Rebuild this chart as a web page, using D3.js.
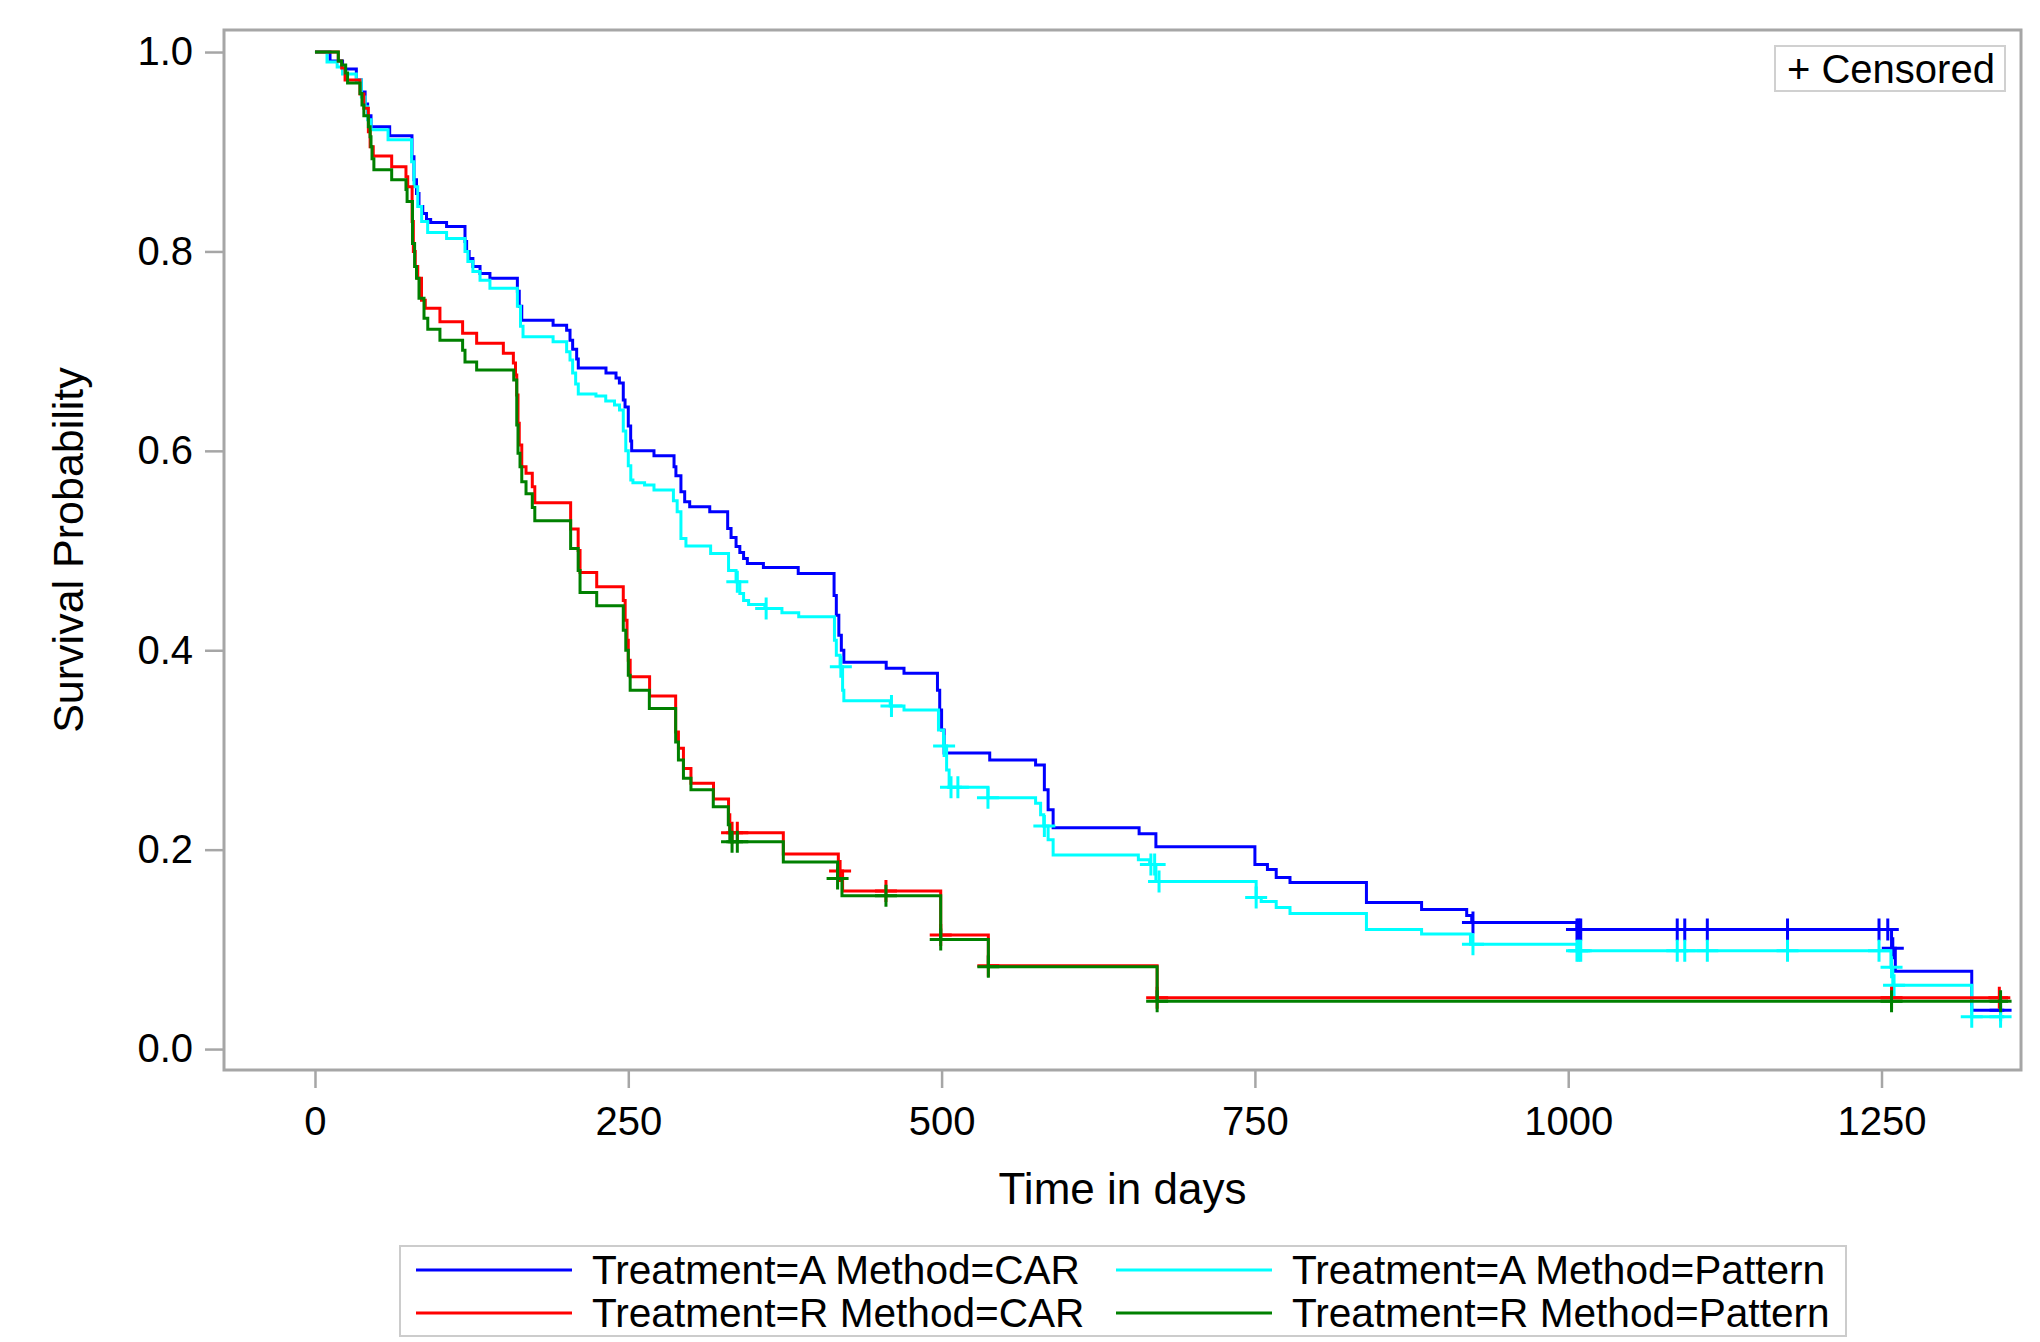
<!DOCTYPE html>
<html>
<head>
<meta charset="utf-8">
<script src="https://cdn.jsdelivr.net/npm/d3@7"></script>
<style>
body { margin: 0; background: #fff; }
text { font-family: "Liberation Sans", Arial, sans-serif; fill: #000; }
</style>
</head>
<body>
<div id="chart"></div>
<script>
width = 2040
height = 1342

// step points [day, survival]
let aCar = [[0,1.0],[12,0.991],[22,0.983],[33,0.972],[37,0.96],[40,0.948],[42,0.936],[44.7,0.925],[59.6,0.916],[77.4,0.895],[79,0.872],[81,0.858],[83,0.845],[86,0.838],[89,0.832],[92.3,0.829],[105,0.825],[119.7,0.81],[121,0.80],[123,0.793],[126,0.785],[131.7,0.778],[139.6,0.773],[161.5,0.76],[163,0.745],[165,0.731],[190,0.726],[200.8,0.721],[203.5,0.711],[205.6,0.702],[208.8,0.692],[210.1,0.683],[232.2,0.678],[240.2,0.673],[242.9,0.668],[246,0.651],[247.4,0.644],[250,0.625],[251.9,0.61],[252.7,0.600],[270.5,0.595],[286.5,0.584],[288,0.575],[292,0.559],[295,0.549],[299,0.544],[315,0.539],[329.3,0.522],[332,0.513],[336,0.504],[339,0.498],[342,0.492],[345,0.487],[357.8,0.483],[385.6,0.477],[414.2,0.455],[416,0.435],[418,0.415],[420,0.40],[422,0.388],[455.8,0.382],[470,0.377],[496.7,0.36],[498.5,0.34],[500,0.32],[502,0.297],[538.4,0.290],[575,0.285],[582,0.26],[585,0.24],[589,0.222],[657.6,0.216],[671,0.203],[750,0.185],[760,0.18],[767,0.172],[778,0.167],[839,0.147],[883,0.140],[919,0.134],[923,0.127],[1007,0.120],[1258,0.101],[1261,0.078],[1322,0.039]]
let aCarEnd = 1348
let aCarCens = [924, 1007, 1008.5, 1010, 1087, 1093, 1111, 1175, 1248, 1255, 1259, 1345]

let aPat = [[0,1.0],[9.6,0.99],[17.7,0.985],[22,0.978],[33,0.972],[37,0.955],[40,0.945],[42,0.932],[44.7,0.922],[58.3,0.912],[77.1,0.89],[79,0.865],[82,0.845],[85.1,0.830],[89.9,0.819],[105,0.813],[119.7,0.80],[122,0.79],[126,0.78],[131.7,0.771],[139.6,0.763],[161.5,0.745],[164,0.725],[166,0.7145],[190,0.7095],[200.8,0.6995],[203.5,0.691],[205.6,0.678],[208,0.667],[210.1,0.657],[224.2,0.655],[232,0.650],[239,0.646],[243,0.641],[246,0.62],[248,0.60],[250,0.585],[252,0.5707],[253.7,0.568],[263,0.5657],[270.5,0.5607],[286,0.55],[289,0.539],[292,0.512],[296,0.5045],[315.7,0.497],[330,0.480],[336,0.4687],[339,0.457],[342,0.450],[346,0.446],[359,0.442],[372.6,0.4376],[386,0.4336],[414.5,0.41],[416,0.395],[419,0.3835],[421,0.36],[422,0.3493],[459,0.344],[470,0.340],[497.5,0.32],[501.5,0.304],[504,0.28],[506,0.2625],[537,0.252],[575,0.2465],[579,0.235],[581.5,0.2237],[585,0.21],[589,0.1946],[657,0.190],[666,0.185],[671,0.168],[751,0.152],[755,0.148],[767,0.142],[778,0.136],[839,0.120],[883,0.1153],[922,0.105],[1007,0.0986],[1257.5,0.082],[1259,0.064],[1322,0.0325]]
let aPatEnd = 1348
let aPatCens = [337, 360, 419.6, 460, 502, 507.5, 513, 537, 582, 667, 670, 673.5, 751, 924, 1007, 1008.5, 1010, 1087, 1093, 1111, 1175, 1248, 1258, 1260, 1322, 1345]

let rCar = [[0,1.0],[18.6,0.991],[21.3,0.984],[24,0.972],[35.9,0.958],[39,0.9435],[42.6,0.92],[44,0.905],[46.5,0.8957],[61.2,0.885],[72.6,0.875],[74,0.865],[77.5,0.83],[78.5,0.80],[80,0.785],[82,0.773],[85,0.751],[88,0.743],[99.7,0.7295],[117.8,0.718],[129,0.708],[150.3,0.698],[158.3,0.688],[160,0.676],[161,0.656],[162,0.6276],[163,0.6058],[165,0.584],[168.4,0.5775],[173.4,0.564],[175.4,0.548],[204,0.5216],[210,0.50],[211.5,0.478],[224.8,0.4637],[246,0.45],[247.5,0.43],[249,0.41],[250,0.39],[251.5,0.3734],[267,0.354],[287.8,0.318],[290,0.3016],[294,0.2815],[300,0.2665],[318,0.2508],[330,0.235],[331,0.217],[373.7,0.1956],[417.6,0.1785],[421,0.1585],[499.3,0.1143],[537.3,0.0836],[672,0.0515]]
let rCarEnd = 1351
let rCarCens = [332.8, 337, 419, 455.6, 499.3, 537.3, 672, 1258, 1344]

let rPat = [[0,1.0],[18.6,0.991],[21.3,0.987],[24.5,0.979],[26,0.969],[35.9,0.9585],[37.5,0.947],[39,0.936],[42.6,0.925],[44,0.915],[44.7,0.905],[45.5,0.893],[47,0.882],[61.2,0.872],[72.6,0.862],[73.5,0.850],[77.8,0.808],[79.5,0.785],[81,0.773],[83,0.753],[87,0.733],[90,0.722],[99.7,0.711],[117.8,0.701],[119.7,0.689],[129,0.681],[158.6,0.671],[161,0.626],[162,0.5975],[163.6,0.584],[165,0.569],[168.4,0.557],[173.4,0.5433],[175.4,0.530],[204,0.502],[210,0.48],[211.5,0.458],[224.8,0.4446],[246,0.42],[248,0.40],[250,0.375],[251.5,0.360],[266.8,0.3417],[287.8,0.308],[290,0.290],[294,0.2715],[300,0.260],[317.8,0.243],[329.8,0.225],[331,0.208],[373.7,0.1876],[417,0.171],[420.5,0.1538],[499.3,0.110],[537.3,0.0826],[672,0.048]]
let rPatEnd = 1351
let rPatCens = [332.8, 337, 417, 455.6, 499.3, 537.3, 672, 1258, 1345]

let seriesNames = ["Treatment=A Method=CAR", "Treatment=A Method=Pattern", "Treatment=R Method=CAR", "Treatment=R Method=Pattern"]
let seriesColors = ["#0000ff", "#00ffff", "#ff0000", "#008000"]
let xTicks = [0, 250, 500, 750, 1000, 1250]
let yTicks = [0, 0.2, 0.4, 0.6, 0.8, 1.0]

let series = [
    { name: seriesNames[0], color: seriesColors[0], steps: aCar, end: aCarEnd, cens: aCarCens },
    { name: seriesNames[1], color: seriesColors[1], steps: aPat, end: aPatEnd, cens: aPatCens },
    { name: seriesNames[2], color: seriesColors[2], steps: rCar, end: rCarEnd, cens: rCarCens },
    { name: seriesNames[3], color: seriesColors[3], steps: rPat, end: rPatEnd, cens: rPatCens }
]

let frame = { left: 224, top: 30, right: 2021, bottom: 1070 }

let svg = d3.select("#chart")
    .append("svg")
    .attr("width", width)
    .attr("height", height)

svg.append("rect").attr("width", width).attr("height", height).attr("fill", "#fff")

let x = d3.scaleLinear().domain([-72.6, 1361.3]).range([frame.left, frame.right])
let y = d3.scaleLinear().domain([-0.021, 1.0221]).range([frame.bottom, frame.top])

// axes
let yAxis = svg.append("g")
    .attr("transform", "translate(" + frame.left + ",0)")
    .call(d3.axisLeft(y).tickValues(yTicks).tickFormat(d3.format(".1f")).tickSize(19).tickPadding(12))
let xAxis = svg.append("g")
    .attr("transform", "translate(0," + frame.bottom + ")")
    .call(d3.axisBottom(x).tickValues(xTicks).tickFormat(d3.format("d")).tickSize(18).tickPadding(19))

svg.selectAll(".domain").remove()
svg.selectAll(".tick line").attr("stroke", "#a6a6a6").attr("stroke-width", 2.5)
svg.selectAll(".tick text")
    .style("font-family", '"Liberation Sans", Arial, sans-serif')
    .style("font-size", "40px")
    .attr("fill", "#000")

svg.append("rect")
    .attr("x", frame.left).attr("y", frame.top)
    .attr("width", frame.right - frame.left).attr("height", frame.bottom - frame.top)
    .attr("fill", "none").attr("stroke", "#a6a6a6").attr("stroke-width", 3)

// axis titles
svg.append("text")
    .attr("x", (frame.left + frame.right) / 2).attr("y", 1204)
    .attr("text-anchor", "middle")
    .style("font-size", "44px")
    .text("Time in days")

svg.append("text")
    .attr("transform", "translate(83," + ((frame.top + frame.bottom) / 2) + ") rotate(-90)")
    .attr("text-anchor", "middle")
    .style("font-size", "43px")
    .text("Survival Probability")

// curves
let plot = svg.append("g")
let line = d3.line().x(d => x(d[0])).y(d => y(d[1])).curve(d3.curveStepAfter)
let bis = d3.bisector(d => d[0]).right

function survAt(steps, t) {
    let i = bis(steps, t) - 1
    return steps[Math.max(0, i)][1]
}

series.forEach(s => {
    let pts = s.steps.concat([[s.end, s.steps[s.steps.length - 1][1]]])
    plot.append("path")
        .attr("d", line(pts))
        .attr("fill", "none")
        .attr("stroke", s.color)
        .attr("stroke-width", 3)

    let h = 11
    plot.append("g").selectAll("path")
        .data(s.cens)
        .join("path")
        .attr("d", t => {
            let cx = x(t), cy = y(survAt(s.steps, t))
            return "M" + (cx - h) + "," + cy + "H" + (cx + h) + "M" + cx + "," + (cy - h) + "V" + (cy + h)
        })
        .attr("stroke", s.color)
        .attr("stroke-width", 3)
        .attr("fill", "none")
})

// censored inset legend
let cens = svg.append("g")
cens.append("rect")
    .attr("x", 1775).attr("y", 46).attr("width", 230).attr("height", 45)
    .attr("fill", "#fff").attr("stroke", "#d0d0d0").attr("stroke-width", 2)
cens.append("text")
    .attr("x", 1787).attr("y", 83)
    .style("font-size", "40px")
    .text("+ Censored")

// bottom legend
let legend = svg.append("g")
legend.append("rect")
    .attr("x", 400).attr("y", 1246).attr("width", 1446).attr("height", 90)
    .attr("fill", "#fff").attr("stroke", "#cccccc").attr("stroke-width", 2)

let colX = [416, 1116]
let rowY = [1270, 1313]
series.forEach((s, i) => {
    let cx = colX[i % 2], cy = rowY[Math.floor(i / 2)]
    let row = legend.append("g").attr("transform", "translate(" + cx + "," + cy + ")")
    row.append("line")
        .attr("x1", 0).attr("x2", 156).attr("y1", 0).attr("y2", 0)
        .attr("stroke", s.color).attr("stroke-width", 3)
    row.append("text")
        .attr("x", 176).attr("y", 14)
        .style("font-size", "40.6px")
        .text(s.name)
})
</script>
</body>
</html>
